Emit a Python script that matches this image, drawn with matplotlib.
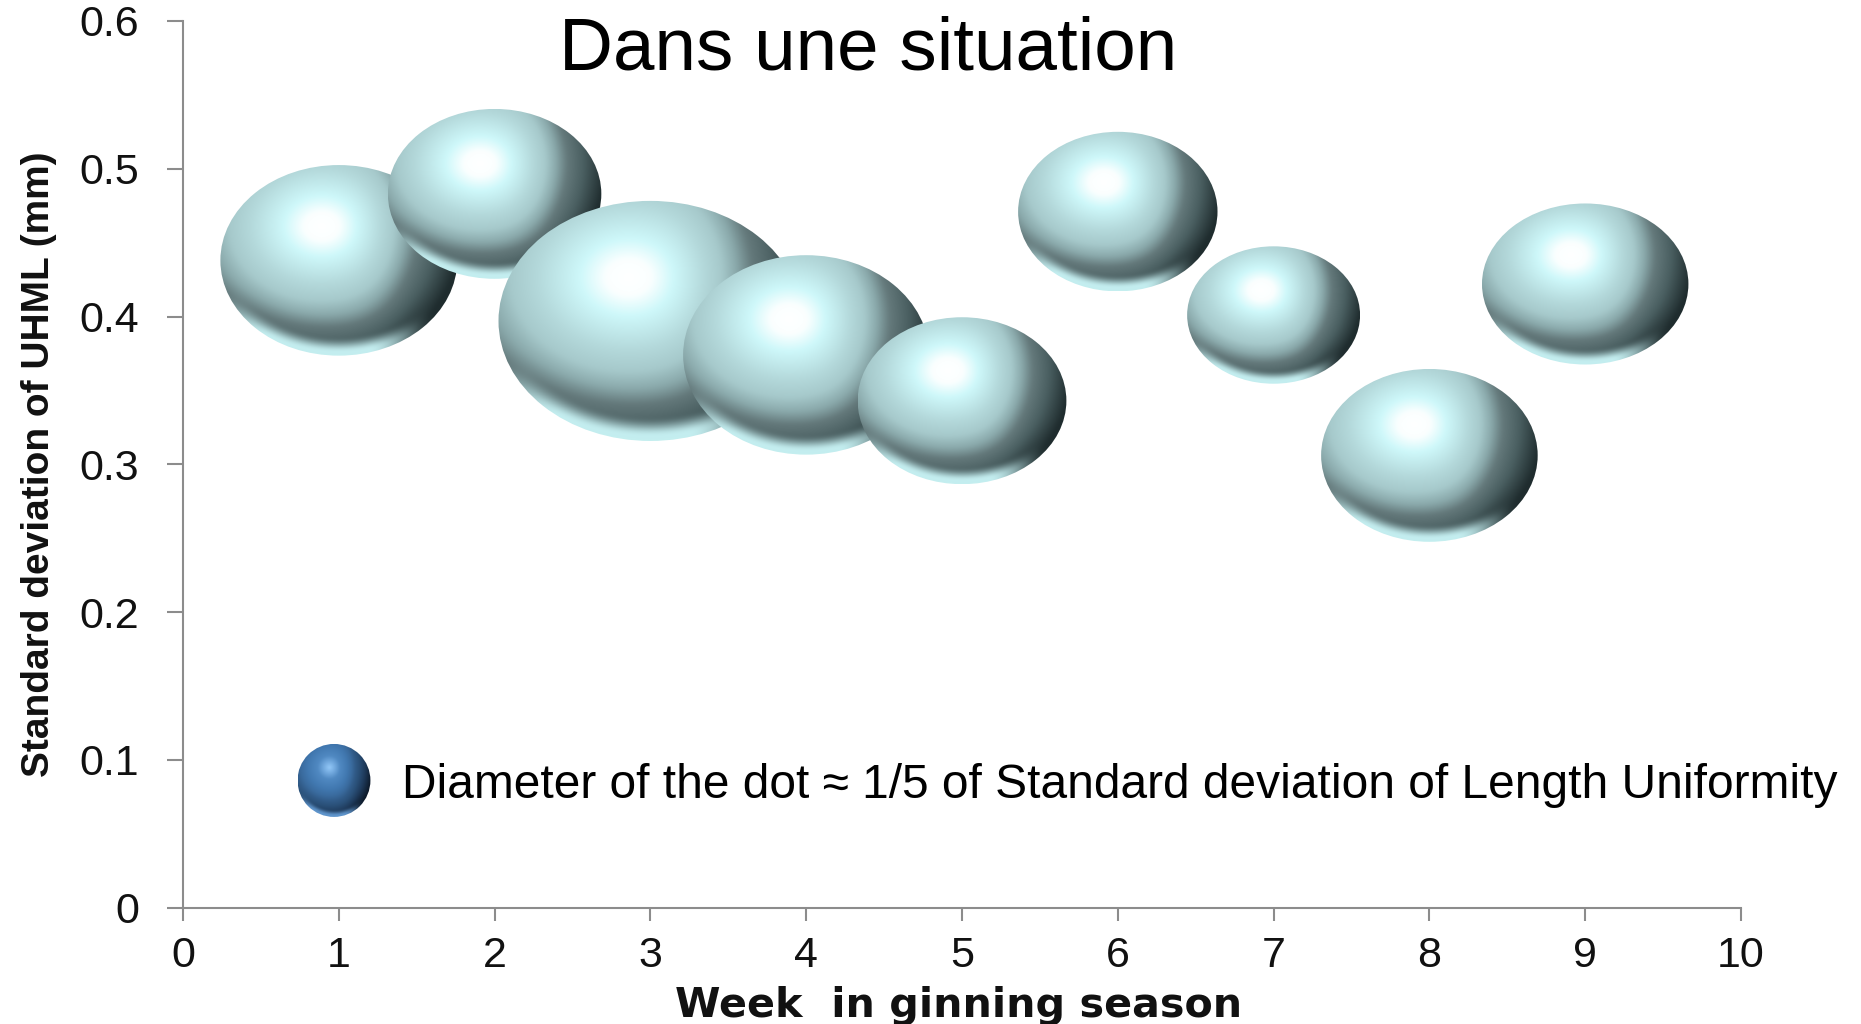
import numpy as np
import matplotlib
matplotlib.use("Agg")
import matplotlib.pyplot as plt
from matplotlib.patches import Ellipse

W, H = 1861, 1024

# ---- data ----
weeks = [1, 2, 3, 4, 5, 6, 7, 8, 9]
sd_uhml = [0.438, 0.483, 0.397, 0.374, 0.343, 0.471, 0.401, 0.306, 0.422]
dot_width = [1.52, 1.37, 1.95, 1.58, 1.34, 1.28, 1.11, 1.39, 1.325]
dot_height = [0.129, 0.115, 0.1625, 0.135, 0.113, 0.108, 0.093, 0.117, 0.109]
legend_x = [0.969]
legend_y = [0.0860]
legend_w = [0.468]
legend_h = [0.0494]
xticks = list(range(0, 11))
yticks = [0, 0.1, 0.2, 0.3, 0.4, 0.5, 0.6]
yticklabels = ["0", "0.1", "0.2", "0.3", "0.4", "0.5", "0.6"]
title_text = "Dans une situation"
legend_text = "Diameter of the dot \u2248 1/5 of Standard deviation of Length Uniformity"
xlabel_text = "Week  in ginning season"
ylabel_text = "Standard deviation of UHML (mm)"

TEAL = [(0.0, "#ffffff"), (0.15, "#fbffff"), (0.32, "#cef8fa"), (0.6, "#b4d9db"),
        (0.78, "#a6c9cb"), (0.93, "#8aa9ab"), (1.08, "#64797b"), (1.28, "#4a5f61"), (1.55, "#1f2c2e")]
BLUE = [(0.0, "#93c8f8"), (0.15, "#74abe0"), (0.32, "#5089c2"), (0.6, "#4178b0"),
        (0.78, "#3a6b9e"), (0.93, "#315b88"), (1.08, "#2a5078"), (1.28, "#1f3b5c"), (1.55, "#0d1a2a")]
RIM = {"teal": "#c4eef0", "blue": "#5f95cc"}


def to_rgb(stops):
    return (np.array([s[0] for s in stops]),
            np.array([matplotlib.colors.to_rgb(s[1]) for s in stops]))


def blur(a, n=9):
    kernel = np.ones(n) / n
    out = a.copy()
    for axis in (0, 1):
        out = np.apply_along_axis(lambda m: np.convolve(np.pad(m, n, mode="edge"), kernel, mode="same")[n:-n], axis, out)
    return out


def smooth(t):
    t = np.clip(t, 0, 1)
    return t * t * (3 - 2 * t)


def shaded(stops, rim, n=400):
    pos, rgb = to_rgb(stops)
    v, u = np.mgrid[1:-1:n * 1j, -1:1:n * 1j]
    hu, hv = -0.14, 0.36
    dx = u - hu
    dy = v - hv
    dx = dx * (1 + 0.32 * smooth(dx / 0.8))
    d = np.hypot(dx, dy)
    # a soft dark band toward the lower edge
    band = smooth((np.hypot(u, (v - 0.05) / 0.95) - 0.6) / 0.28) * smooth((-v - 0.15) / 0.5)
    d = d + 0.03 * band
    img = np.stack([np.interp(d, pos, rgb[:, i]) for i in range(3)], axis=-1)
    # light crescent along the lower edge
    r2 = np.hypot(u, (v - 0.05) / 0.95)
    k = smooth((r2 - 0.9) / 0.16) * smooth((-v - 0.3) / 0.5) * smooth((0.85 - u) / 0.6)
    k = k[..., None]
    rimc = np.array(matplotlib.colors.to_rgb(rim))
    img = img * (1 - k) + rimc * k
    return np.stack([blur(img[..., i]) for i in range(3)], axis=-1)


fig = plt.figure(figsize=(W / 100, H / 100), dpi=100, facecolor="white")
ax = fig.add_axes([183 / W, 1 - 907.5 / H, (1741 - 183) / W, (907.5 - 21) / H])
ax.set_xlim(0, 10)
ax.set_ylim(0, 0.6)
for s in ("top", "right"):
    ax.spines[s].set_visible(False)
for s in ("left", "bottom"):
    ax.spines[s].set_color("#8c8c8c")
    ax.spines[s].set_linewidth(1.5)
ax.set_xticks(xticks)
ax.set_yticks(yticks)
ax.set_yticklabels(yticklabels)
F = ["Liberation Sans", "DejaVu Sans"]
ax.tick_params(axis="x", length=9, width=1.5, color="#8c8c8c", pad=11.5, labelsize=31, labelcolor="#111111")
ax.tick_params(axis="y", length=11.5, width=1.5, color="#8c8c8c", pad=20, labelsize=31, labelcolor="#111111")
for t in ax.get_xticklabels() + ax.get_yticklabels():
    t.set_fontfamily(F)


def bubble(x, y, w, h, img, z):
    e = Ellipse((x, y), w, h, transform=ax.transData, facecolor="none", edgecolor="none")
    ax.add_patch(e)
    im = ax.imshow(img, extent=(x - w / 2, x + w / 2, y - h / 2, y + h / 2),
                   aspect="auto", interpolation="bilinear", zorder=z)
    im.set_clip_path(e)


teal_img = shaded(TEAL, RIM["teal"])
blue_img = shaded(BLUE, RIM["blue"])
for i, (x, y, w, h) in enumerate(zip(weeks, sd_uhml, dot_width, dot_height)):
    bubble(x, y, w, h, teal_img, 3 + i * 0.01)
for x, y, w, h in zip(legend_x, legend_y, legend_w, legend_h):
    bubble(x, y, w, h, blue_img, 3)
ax.set_xlim(0, 10)
ax.set_ylim(0, 0.6)

fig.text(559 / W, 1 - 50 / H, title_text, fontsize=53.7, family=F, color="black", va="center", ha="left")
fig.text(402 / W, 1 - 785 / H, legend_text, fontsize=34.5, family=F, color="black", va="center", ha="left")
fig.text(959 / W, 1 - 1006 / H, xlabel_text, fontsize=29.7, family=["DejaVu Sans"], weight="bold",
         color="#111111", va="center", ha="center")
fig.text(39 / W, 1 - 464 / H, ylabel_text, fontsize=28, family=F,
         weight="bold", rotation=90, color="#111111", va="center", ha="center")
fig.savefig("out.png", dpi=100)
